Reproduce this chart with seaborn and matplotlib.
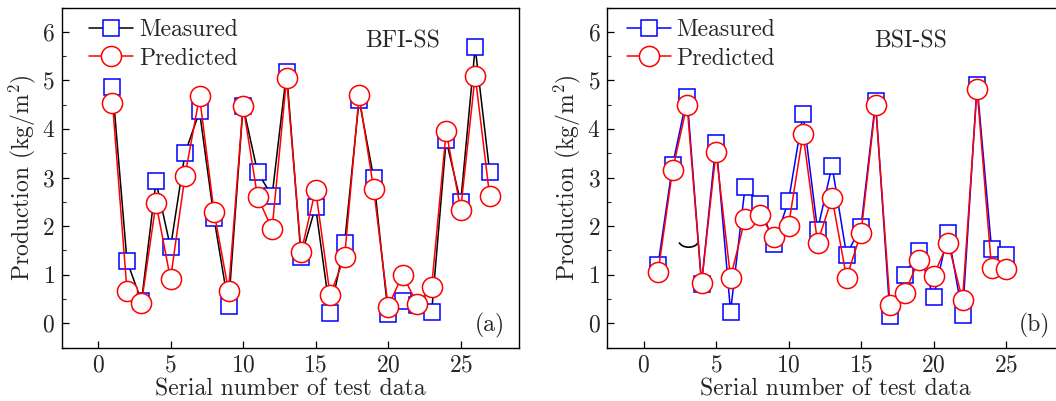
import numpy as np
import pandas as pd
import seaborn as sns
import matplotlib
matplotlib.use("Agg")
import matplotlib.pyplot as plt
from matplotlib.patches import Arc
from matplotlib.lines import Line2D

# ---- data -------------------------------------------------------------
bfi_measured = [4.87, 1.28, 0.45, 2.92, 1.56, 3.50, 4.36, 2.16, 0.36, 4.47,
                3.11, 2.62, 5.17, 1.37, 2.40, 0.21, 1.65, 4.60, 3.00, 0.19,
                0.45, 0.38, 0.23, 3.77, 2.49, 5.68, 3.11]
bfi_predicted = [4.54, 0.67, 0.42, 2.47, 0.91, 3.04, 4.67, 2.29, 0.67, 4.48,
                 2.60, 1.94, 5.04, 1.46, 2.75, 0.58, 1.37, 4.69, 2.77, 0.34,
                 1.00, 0.39, 0.75, 3.95, 2.34, 5.10, 2.61]

bsi_measured = [1.20, 3.25, 4.66, 0.81, 3.72, 0.24, 2.80, 2.45, 1.63, 2.52,
                4.31, 1.92, 3.24, 1.41, 1.99, 4.57, 0.14, 1.00, 1.48, 0.53,
                1.86, 0.17, 4.91, 1.53, 1.41]
bsi_predicted = [1.05, 3.15, 4.50, 0.82, 3.53, 0.94, 2.15, 2.23, 1.77, 2.01,
                 3.90, 1.66, 2.58, 0.94, 1.86, 4.50, 0.38, 0.62, 1.31, 0.98,
                 1.66, 0.48, 4.82, 1.13, 1.11]

panel_titles = ["BFI-SS", "BSI-SS"]
panel_tags = ["(a)", "(b)"]
series_names = ["Measured", "Predicted"]
x_ticks = [0, 5, 10, 15, 20, 25]
y_ticks = [0, 1, 2, 3, 4, 5, 6]

# ---- style ------------------------------------------------------------
sns.set_style("ticks")
plt.rcParams["font.family"] = "serif"
plt.rcParams["font.serif"] = ["cmr10", "DejaVu Serif"]
plt.rcParams["mathtext.fontset"] = "cm"
plt.rcParams["axes.formatter.use_mathtext"] = True
plt.rcParams["axes.unicode_minus"] = False

FS = 17
BLUE = "#0000FF"
RED = "#FF0000"

fig = plt.figure(figsize=(10.56, 4.01), dpi=100)
W, H = 1056, 401
ax_a = fig.add_axes([61.7 / W, (H - 347.5) / H, 457 / W, 340 / H])
ax_b = fig.add_axes([607.3 / W, (H - 347.5) / H, 456.75 / W, 340 / H])

# axes, measured, predicted, measured line colour, title x, legend x
panels = [
    (ax_a, bfi_measured, bfi_predicted, "black", 0.747, 0.060),
    (ax_b, bsi_measured, bsi_predicted, BLUE, 0.663, 0.043),
]

for k, (ax, meas, pred, meas_line, title_x, leg_x) in enumerate(panels):
    df = pd.DataFrame({
        "n": np.arange(1, len(meas) + 1),
        "measured": meas,
        "predicted": pred,
    })
    sns.lineplot(data=df, x="n", y="measured", ax=ax, color=meas_line,
                 lw=1.1, marker="s", markersize=11.5, markerfacecolor="white",
                 markeredgecolor=BLUE, markeredgewidth=1.1, zorder=3,
                 legend=False)
    sns.lineplot(data=df, x="n", y="predicted", ax=ax, color=RED,
                 lw=1.1, marker="o", markersize=14.5, markerfacecolor="white",
                 markeredgecolor=RED, markeredgewidth=1.1, zorder=4,
                 legend=False)

    ax.set_xlim(-2.5, 29)
    ax.set_ylim(-0.5, 6.5)
    ax.set_xticks(x_ticks)
    ax.set_yticks(y_ticks)
    ax.set_yticks(np.arange(-0.5, 6.6, 1.0), minor=True)
    ax.tick_params(axis="both", which="major", direction="in", length=5,
                   width=0.9, labelsize=FS, pad=5, color="black")
    ax.tick_params(axis="y", which="minor", direction="in", length=3,
                   width=0.8)
    ax.tick_params(axis="x", which="minor", bottom=False)
    for sp in ax.spines.values():
        sp.set_visible(True)
        sp.set_linewidth(1.0)
        sp.set_color("black")

    ax.set_xlabel("Serial number of test data", fontsize=FS, labelpad=1)
    ax.set_ylabel(r"Production (kg/m$^{2}$)", fontsize=FS, labelpad=3)

    ax.text(title_x, 0.90, panel_titles[k], transform=ax.transAxes,
            fontsize=FS, ha="center", va="center")
    ax.text(0.936, 0.066, panel_tags[k],
            transform=ax.transAxes, fontsize=FS, ha="center", va="center")

    handles = [
        Line2D([], [], color=meas_line, lw=1.1, marker="s", markersize=11.5,
               markerfacecolor="white", markeredgecolor=BLUE,
               markeredgewidth=1.1),
        Line2D([], [], color=RED, lw=1.1, marker="o", markersize=14.5,
               markerfacecolor="white", markeredgecolor=RED,
               markeredgewidth=1.1),
    ]
    ax.legend(handles, series_names, loc="upper left",
              bbox_to_anchor=(leg_x, 0.967), frameon=False, fontsize=FS,
              handlelength=1.85, handletextpad=0.25, labelspacing=0.28,
              borderpad=0.0, borderaxespad=0.0)

# small stray arc on panel (b)
ax_b.add_patch(Arc((3.11, 1.71), 1.39, 0.29, theta1=184, theta2=356,
                   color="black", lw=1.2, zorder=2))

fig.savefig("out.png", dpi=100)
